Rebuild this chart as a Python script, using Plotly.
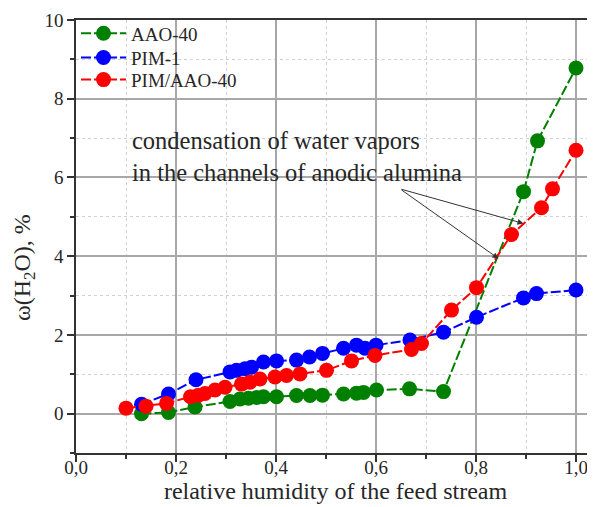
import plotly.graph_objects as go

# ---- data ----
aao_x = [0.131, 0.185, 0.238, 0.308, 0.328, 0.345, 0.361, 0.375, 0.401, 0.441, 0.468, 0.493,
         0.535, 0.561, 0.575, 0.601, 0.667, 0.735, 0.895, 0.923, 1.0]
aao_y = [0.00, 0.03, 0.17, 0.31, 0.37, 0.39, 0.41, 0.43, 0.43, 0.46, 0.46, 0.47,
         0.50, 0.52, 0.54, 0.60, 0.63, 0.56, 5.64, 6.93, 8.78]

pim_x = [0.131, 0.185, 0.240, 0.308, 0.321, 0.338, 0.351, 0.375, 0.401, 0.441, 0.467, 0.493,
         0.535, 0.561, 0.578, 0.600, 0.668, 0.735, 0.801, 0.895, 0.921, 1.0]
pim_y = [0.24, 0.50, 0.86, 1.06, 1.10, 1.14, 1.18, 1.31, 1.34, 1.36, 1.44, 1.53,
         1.66, 1.74, 1.66, 1.74, 1.87, 2.07, 2.45, 2.94, 3.05, 3.14]

mix_x = [0.100, 0.140, 0.181, 0.229, 0.245, 0.258, 0.278, 0.298, 0.331, 0.348, 0.368, 0.398,
         0.421, 0.448, 0.501, 0.551, 0.598, 0.671, 0.691, 0.751, 0.801, 0.871, 0.931, 0.953, 1.0]
mix_y = [0.14, 0.19, 0.26, 0.43, 0.47, 0.51, 0.60, 0.67, 0.75, 0.80, 0.88, 0.93,
         0.97, 1.01, 1.10, 1.34, 1.48, 1.63, 1.78, 2.63, 3.20, 4.55, 5.23, 5.71, 6.69]

series_names = ["AAO-40", "PIM-1", "PIM/AAO-40"]
series_colors = ["#008000", "#0000ff", "#ff0000"]

note_text = "condensation of water vapors<br>in the channels of anodic alumina"
x_title = "relative humidity of the feed stream"
y_title = "ω(H<sub>2</sub>O), %"

SERIF = "Liberation Serif"
TXT = "#262626"

legend_ids = ["legend", "legend2", "legend3"]
legend_rows = [0.969, 0.913, 0.862]

fig = go.Figure()
for xs, ys, name, col, lg in zip([aao_x, pim_x, mix_x], [aao_y, pim_y, mix_y],
                                 series_names, series_colors, legend_ids):
    fig.add_trace(go.Scatter(
        x=xs, y=ys, name=name, mode="lines+markers", legend=lg, showlegend=True,
        line=dict(color=col, width=2, dash="10px,3px"),
        marker=dict(color=col, size=15, line=dict(width=0)),
    ))

# arrows
for hx, hy in [(0.895, 4.83), (0.845, 3.94)]:
    fig.add_annotation(x=hx, y=hy, ax=0.648, ay=5.71, xref="x", yref="y", axref="x", ayref="y",
                       showarrow=True, arrowhead=2, arrowsize=1.2, arrowwidth=1, arrowcolor="#333333", text="")

fig.add_annotation(x=0.108, y=6.52, xref="x", yref="y", text=note_text, showarrow=False,
                   xanchor="left", yanchor="middle", align="left",
                   font=dict(family=SERIF, size=24.5, color=TXT))

fig.add_annotation(x=-0.1, y=3.7, xref="paper", yref="y", text=y_title, showarrow=False,
                   textangle=-90, xanchor="center", yanchor="middle",
                   font=dict(family=SERIF, size=24, color=TXT))

legend_style = dict(x=0.0, xanchor="left", yanchor="middle", bgcolor="rgba(0,0,0,0)",
                    font=dict(family=SERIF, size=19, color=TXT), itemwidth=45,
                    borderwidth=0)

# page body has an 8px margin: figure is sized/offset to compensate
fig.update_layout(
    width=587, height=499,
    margin=dict(l=68, r=0, t=12, b=54),
    plot_bgcolor="white", paper_bgcolor="white",
    separators=", ",
    showlegend=True,
    font=dict(family=SERIF, size=18, color=TXT),
    legend=dict(y=legend_rows[0], **legend_style),
    legend2=dict(y=legend_rows[1], **legend_style),
    legend3=dict(y=legend_rows[2], **legend_style),
    xaxis=dict(
        range=[0, 1.038], tick0=0, dtick=0.2, tickformat=".1f",
        showline=True, linecolor="#333333", linewidth=1.5, mirror=True,
        ticks="outside", ticklen=7, tickcolor="#333333", tickwidth=1.5,
        ticklabelstandoff=-11,
        showgrid=True, gridcolor="#a8a8a8", gridwidth=1.5, zeroline=False,
        tickfont=dict(family=SERIF, size=19, color=TXT),
        title=dict(text=x_title, font=dict(family=SERIF, size=24, color=TXT), standoff=0),
        minor=dict(dtick=0.1, ticks="outside", ticklen=4, tickcolor="#333333",
                   showgrid=True, gridcolor="#d0d0d0", griddash="dot", gridwidth=1),
    ),
    yaxis=dict(
        range=[-1, 10], tick0=0, dtick=2,
        showline=True, linecolor="#333333", linewidth=1.5,
        ticks="outside", ticklen=7, tickcolor="#333333", tickwidth=1.5,
        showgrid=True, gridcolor="#a8a8a8", gridwidth=1.5, zeroline=False,
        tickfont=dict(family=SERIF, size=19, color=TXT),
        minor=dict(dtick=1, tick0=0, ticks="outside", ticklen=4, tickcolor="#333333",
                   showgrid=True, gridcolor="#d0d0d0", griddash="dot", gridwidth=1),
    ),
)

fig.write_html("out.html")
